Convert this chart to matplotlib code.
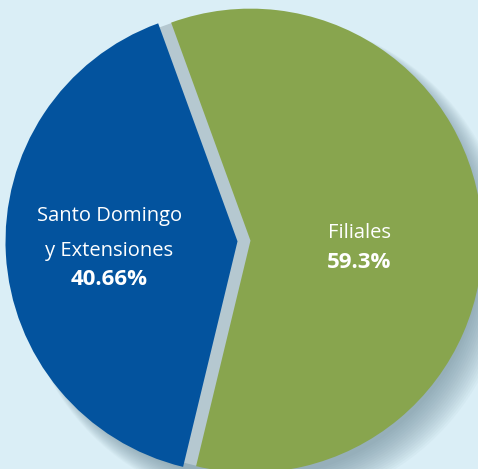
import matplotlib.pyplot as plt
import numpy as np

categorias = ['Santo Domingo\ny Extensiones', 'Filiales']
valores = [40.66, 59.3]
colores = ['#03539E', '#88A54E']

W, H = 478, 469
R = 232.0
cx, cy = 244, 241

fig = plt.figure(figsize=(W / 100, H / 100), dpi=100)
fig.patch.set_facecolor('#DAEEF6')
ax = fig.add_axes([0, 0, 1, 1])
ax.set_facecolor('#DAEEF6')

# sombra difusa abajo a la derecha
for i in range(16):
    s = plt.Circle((0.03 + i * 0.004, -0.03 - i * 0.004), 0.995 + i * 0.004,
                   color='#5E7C8C', alpha=0.045, lw=0, zorder=0)
    ax.add_patch(s)
ax.add_patch(plt.Circle((0, 0), 0.99, color='#B5C8D0', lw=0, zorder=1))

wedges, _ = ax.pie(valores, colors=colores, startangle=110, radius=1,
                   explode=[0.028, 0.028],
                   wedgeprops=dict(linewidth=0, zorder=2))

dist = [0.553, 0.469]
paso_cat = 0.147
paso_pct = 0.125
yc = -0.03
for w, cat, v, d in zip(wedges, categorias, valores, dist):
    ang = np.deg2rad((w.theta1 + w.theta2) / 2)
    x = w.center[0] + d * np.cos(ang)
    lineas = cat.split('\n')
    alto = paso_cat * (len(lineas) - 1) + paso_pct
    y = yc + alto / 2
    for ln in lineas:
        ax.text(x, y, ln, ha='center', va='center', color='white',
                fontsize=14.5, family='Open Sans', zorder=5)
        y -= paso_cat
    y += paso_cat - paso_pct
    ax.text(x, y, '{:g}%'.format(v), ha='center', va='center', color='white',
            fontsize=16, family='Open Sans', fontweight='bold', zorder=5)

ax.set_xlim(-cx / R, (W - cx) / R)
ax.set_ylim(-(H - cy) / R, cy / R)
ax.set_aspect('equal')
ax.axis('off')

fig.savefig('out.png', dpi=100, facecolor=fig.get_facecolor())
